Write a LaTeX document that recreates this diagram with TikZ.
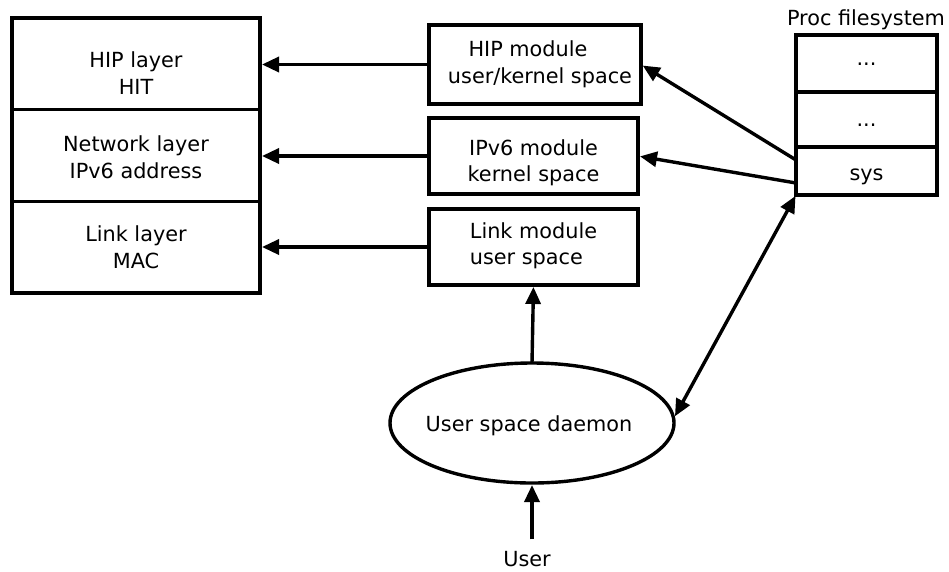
\documentclass[tikz,border=0pt]{standalone}
\usepackage{fontspec}
\setmainfont{DejaVu Sans}
\usetikzlibrary{arrows.meta,shapes.geometric}
\begin{document}
\begin{tikzpicture}[x=1pt,y=-1pt,
  box/.style={draw, line width=3.4pt, rectangle, inner sep=0pt, outer sep=0pt},
  txt/.style={font=\fontsize{20.8}{26.5}\selectfont, align=center, inner sep=0pt},
  link/.style={line width=3.4pt, -{Triangle[length=17pt,width=15pt]}, shorten >=2pt},
  dbl/.style={line width=3.4pt, {Triangle[length=17pt,width=15pt]}-{Triangle[length=17pt,width=15pt]}, shorten >=2pt, shorten <=1pt},
]
\useasboundingbox (0,0) rectangle (949,571);

% protocol stack
\node[box, minimum width=248pt, minimum height=91.5pt] (hiplayer)  at (136,63.75) {};
\node[box, minimum width=248pt, minimum height=92pt]   (netlayer)  at (136,155.5) {};
\node[box, minimum width=248pt, minimum height=91.5pt] (linklayer) at (136,247.25) {};
\node[txt] (hiplayertext)  at (136,73.3)  {HIP layer\\HIT};
\node[txt] (netlayertext)  at (136,157.3) {Network layer\\IPv6 address};
\node[txt] (linklayertext) at (136,247.3) {Link layer\\MAC};

% modules
\node[box, minimum width=212pt, minimum height=79pt] (hipmod)  at (535,64.5) {};
\node[box, minimum width=209pt, minimum height=76pt] (ipv6mod) at (533.5,156) {};
\node[box, minimum width=209pt, minimum height=76pt] (linkmod) at (533.5,247) {};
\node[txt] (hipmodtext)  at (535,64.4) {HIP module\hspace*{14pt}\\\hspace*{10pt}user/kernel space};
\node[txt] (ipv6modtext) at (533.5,163) {IPv6 module\\kernel space};
\node[txt, align=left] (linkmodtext) at (533.5,246) {Link module\\user space};

% proc filesystem
\node[box, minimum width=141pt, minimum height=57pt] (proc1) at (866.5,63.5) {};
\node[box, minimum width=141pt, minimum height=55pt] (proc2) at (866.5,119.5) {};
\node[box, minimum width=141pt, minimum height=48pt] (sys)   at (866.5,171) {};
\node[txt] (proclabel) at (866,19.5) {Proc filesystem};
\node[txt] (dots1) at (866.5,64) {...};
\node[txt] (dots2) at (866.5,125) {...};
\node[txt] (systext) at (866.5,176.6) {sys};

% daemon and user
\node[ellipse, draw, line width=3.4pt, minimum width=284pt, minimum height=120pt, inner sep=0pt, outer sep=0pt] (daemon) at (532,423) {};
\node[txt] (daemontext) at (529,426) {User space daemon};
\node[txt] (user) at (527,559.4) {User};

% connectors
\draw[link] (hipmod.west)  -- (hipmod.west -| hiplayer.east);
\draw[link] (ipv6mod.west) -- (ipv6mod.west -| netlayer.east);
\draw[link] (linkmod.west) -- (linkmod.west -| linklayer.east);
\draw[link] ([yshift=11pt]sys.west) -- (hipmod.east);
\draw[link] ([yshift=-12pt]sys.west) -- (ipv6mod.east);
\draw[dbl] (sys.south west) -- ([yshift=5pt]daemon.east);
\draw[link] (daemon.north) -- (linkmod.south);
\draw[link] ([yshift=12pt]user.north -| daemon.south) -- (daemon.south);
\end{tikzpicture}
\end{document}
